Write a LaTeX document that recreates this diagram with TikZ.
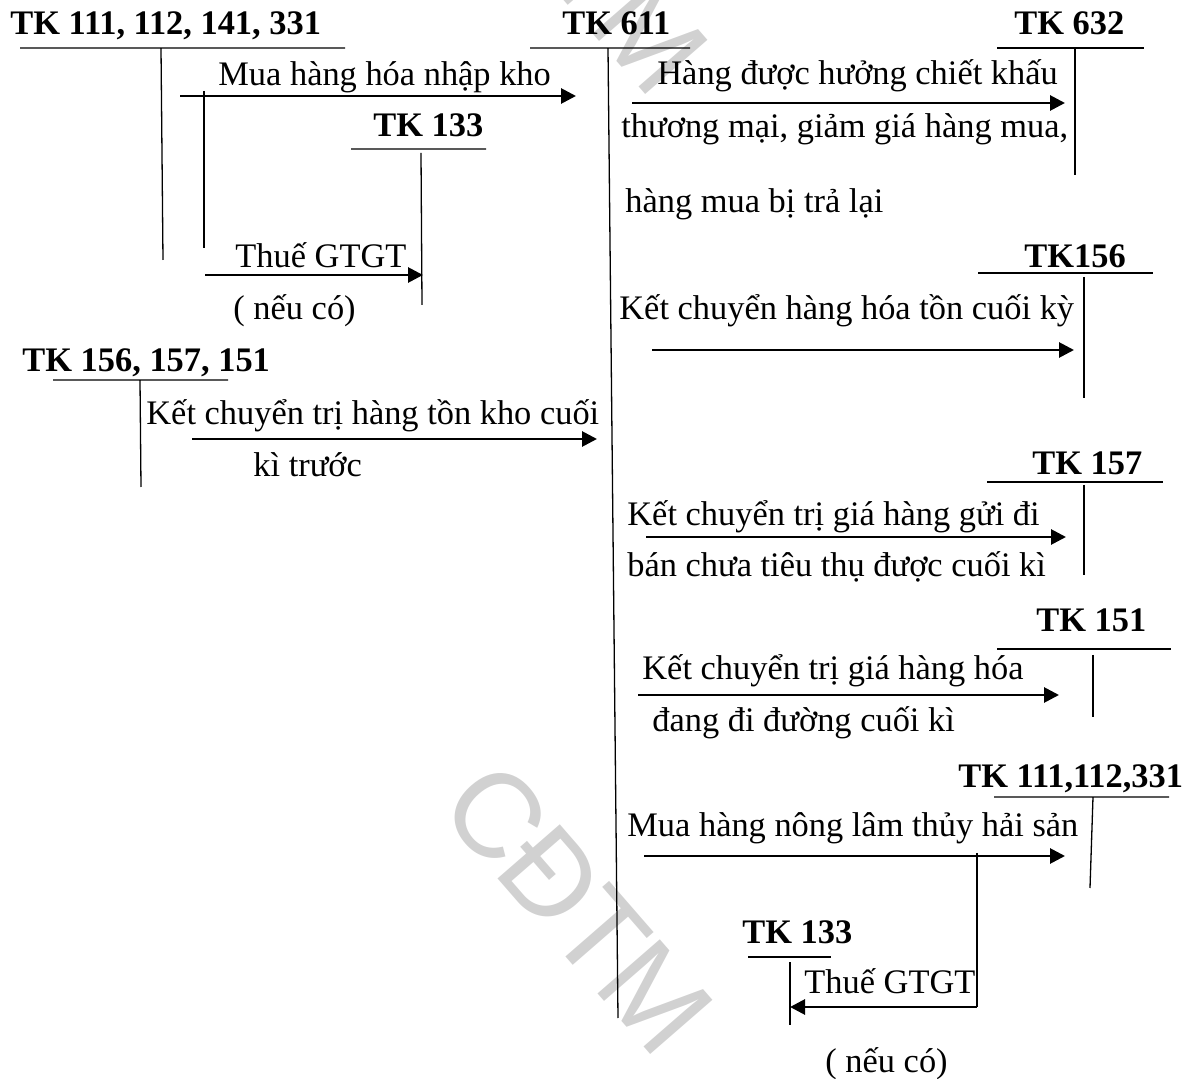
\documentclass[tikz,border=0pt]{standalone}
\usepackage{fontspec}
\setmainfont{Liberation Serif}
\newfontfamily\wmfont[LetterSpace=-3]{Liberation Sans}
\usetikzlibrary{arrows.meta}

\begin{document}
\begin{tikzpicture}[
    x=0.5pt, y=-0.5pt,
    acct/.style={font=\fontsize{17.2}{20}\selectfont\bfseries, inner sep=0pt, anchor=base west},
    memo/.style={font=\fontsize{17.2}{20}\selectfont, inner sep=0pt, anchor=base west},
    tline/.style={line width=0.65pt},
    flow/.style={-{Triangle[length=7.5pt, width=7.5pt]}, line width=1.4pt},
    wmark/.style={font=\wmfont\fontsize{60}{66}\selectfont, text=black!18, inner sep=0pt, rotate=-49}
  ]
    \useasboundingbox (0,0) rectangle (1195,1079);
    % watermark
    \node[wmark] (wm) at (578,908) {CĐTM};
    \node[wmark] (wmtop) at (573,-52) {CĐTM};

    % T accounts, left side
    \node[acct] (a111) at (10,35) {TK 111, 112, 141, 331};
    \draw[tline] (20,48) -- (345,48) (161,48) -- (163,260);
    \draw[tline] (204,91) -- (204,248);
    \node[acct] (a133) at (373,137) {TK 133};
    \draw[tline] (351,149) -- (486,149) (421,153) -- (422,305);
    \node[acct] (a156s) at (22,372) {TK 156, 157, 151};
    \draw[tline] (53,380) -- (228,380) (140,380) -- (141,487);

    % TK 611
    \node[acct] (a611) at (562,35) {TK 611};
    \draw[tline] (530,48) -- (690,48) (608,48) -- (618,1018);

    % T accounts, right side
    \node[acct] (a632) at (1014,35) {TK 632};
    \draw[tline] (997,48) -- (1144,48) (1075,48) -- (1075,175);
    \node[acct] (a156) at (1024,268) {TK156};
    \draw[tline] (978,273) -- (1153,273) (1084,277) -- (1084,398);
    \node[acct] (a157) at (1032,475) {TK 157};
    \draw[tline] (987,482) -- (1163,482) (1084,485) -- (1084,575);
    \node[acct] (a151) at (1036,632) {TK 151};
    \draw[tline] (997,649) -- (1171,649) (1093,655) -- (1093,717);
    \node[acct] (a331) at (958,788) {TK 111,112,331};
    \draw[tline] (994,797) -- (1169,797) (1093,797) -- (1090,888);
    \node[acct] (b133) at (742,943) {TK 133};
    \draw[tline] (748,957) -- (831,957) (790,962) -- (790,1025);
    \draw[tline] (977,853) -- (977,1007);

    % arrow ends
    \coordinate (buys) at (180,96);   \coordinate (buye) at (576,96);
    \coordinate (vats) at (205,275);  \coordinate (vate) at (423,275);
    \coordinate (opens) at (192,439); \coordinate (opene) at (597,439);
    \coordinate (discs) at (632,103); \coordinate (disce) at (1065,103);
    \coordinate (stocks) at (652,350); \coordinate (stocke) at (1074,350);
    \coordinate (sents) at (646,537); \coordinate (sente) at (1066,537);
    \coordinate (transs) at (638,695); \coordinate (transe) at (1059,695);
    \coordinate (farms) at (644,856); \coordinate (farme) at (1065,856);
    \coordinate (fvats) at (977,1007); \coordinate (fvate) at (790,1007);

    \draw[flow] (buys) -- (buye);
    \draw[flow] (vats) -- (vate);
    \draw[flow] (opens) -- (opene);
    \draw[flow] (discs) -- (disce);
    \draw[flow] (stocks) -- (stocke);
    \draw[flow] (sents) -- (sente);
    \draw[flow] (transs) -- (transe);
    \draw[flow] (farms) -- (farme);
    \draw[flow] (fvats) -- (fvate);

    % labels
    \node[memo] (tbuy) at (218,86) {Mua hàng hóa nhập kho};
    \node[memo] (tvat) at (235,268) {Thuế GTGT};
    \node[memo] (tif) at (233,320) {( nếu có)};
    \node[memo] (topen) at (146,425) {Kết chuyển trị hàng tồn kho cuối};
    \node[memo] (topen2) at (253,477) {kì trước};
    \node[memo] (tdisc) at (657,85) {Hàng được hưởng chiết khấu};
    \node[memo] (tdisc2) at (621,138) {thương mại, giảm giá hàng mua,};
    \node[memo] (tdisc3) at (625,213) {hàng mua bị trả lại};
    \node[memo] (tstock) at (619,320) {Kết chuyển hàng hóa tồn cuối kỳ};
    \node[memo] (tsent) at (627,526) {Kết chuyển trị giá hàng gửi đi};
    \node[memo] (tsent2) at (627,577) {bán chưa tiêu thụ được cuối kì};
    \node[memo] (ttrans) at (642,680) {Kết chuyển trị giá hàng hóa};
    \node[memo] (ttrans2) at (652,732) {đang đi đường cuối kì};
    \node[memo] (tfarm) at (627,837) {Mua hàng nông lâm thủy hải sản};
    \node[memo] (tfvat) at (804,993) {Thuế GTGT};
    \node[memo] (tfif) at (825,1072) {( nếu có)};
\end{tikzpicture}
\end{document}
